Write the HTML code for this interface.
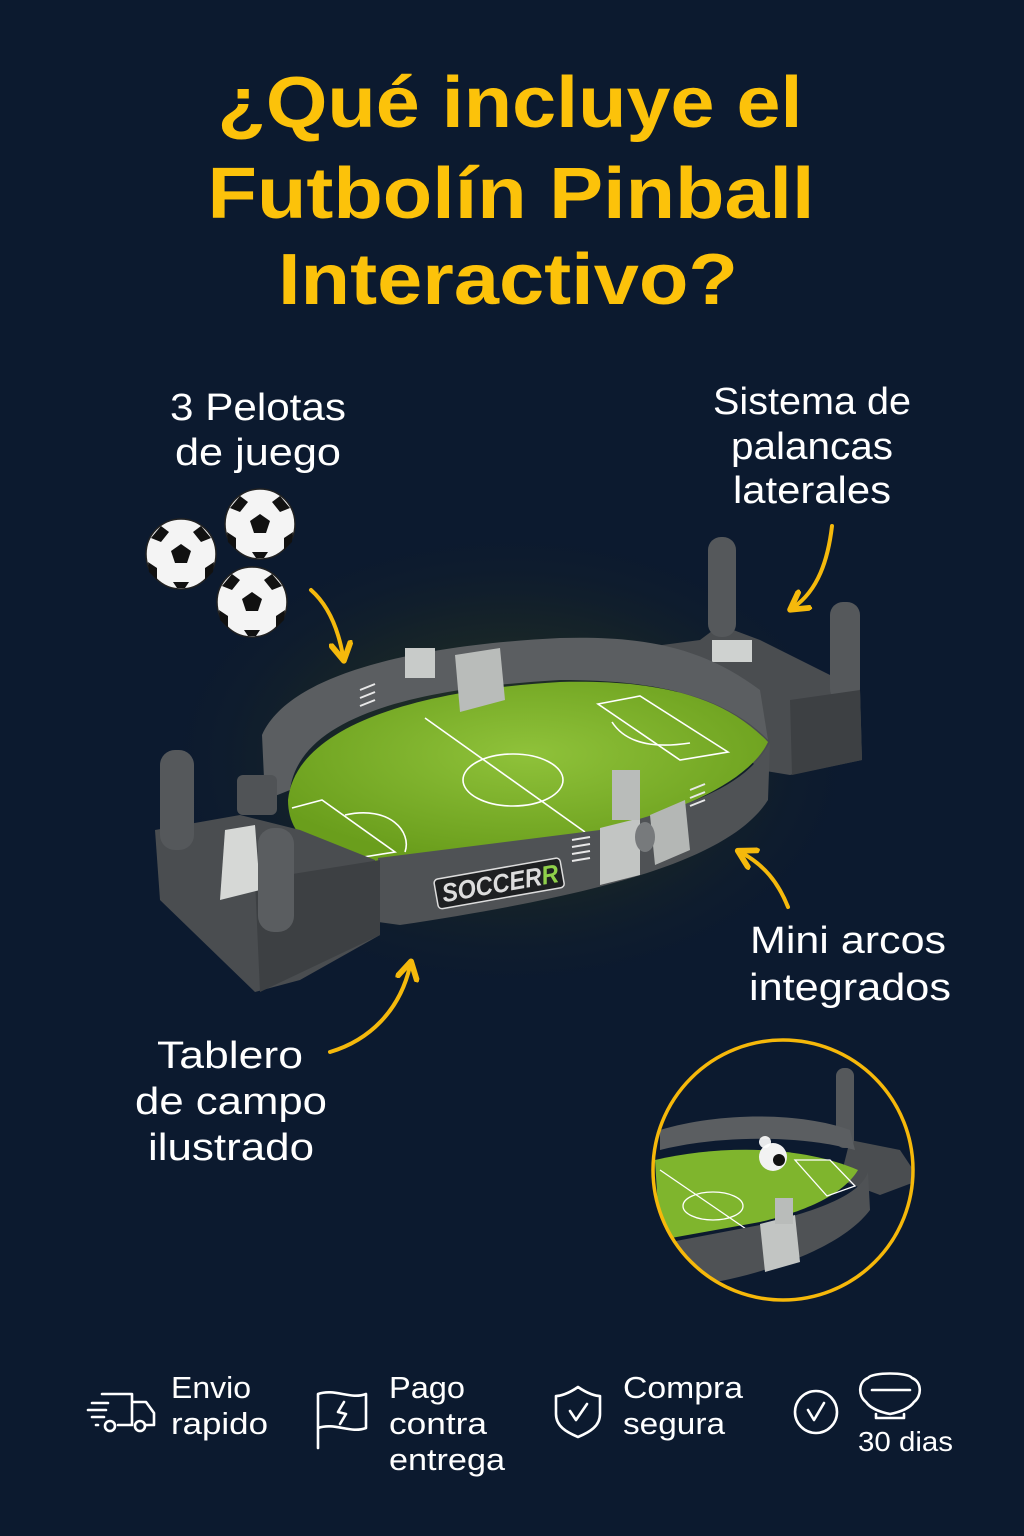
<!DOCTYPE html>
<html><head><meta charset="utf-8"><style>
html,body{margin:0;padding:0;background:#0c1a2f;}
svg{display:block;}
text{font-family:"Liberation Sans",sans-serif;}
</style></head><body>
<svg width="1024" height="1536" viewBox="0 0 1024 1536" xmlns="http://www.w3.org/2000/svg">
<defs>
<radialGradient id="glow" cx="0.5" cy="0.5" r="0.5">
<stop offset="0" stop-color="#4a5a1a" stop-opacity="0.55"/>
<stop offset="0.6" stop-color="#24301e" stop-opacity="0.35"/>
<stop offset="1" stop-color="#0c1a2f" stop-opacity="0"/>
</radialGradient>
<radialGradient id="field" cx="0.5" cy="0.4" r="0.6">
<stop offset="0" stop-color="#8fc23a"/><stop offset="1" stop-color="#6a9e1c"/>
</radialGradient>
<marker id="ah" viewBox="0 0 10 10" refX="6" refY="5" markerWidth="6" markerHeight="6" orient="auto-start-reverse">
<path d="M1,1 L8,5 L1,9" fill="none" stroke="#f5b90c" stroke-width="2.4" stroke-linecap="round" stroke-linejoin="round"/>
</marker>
</defs>
<rect width="1024" height="1536" fill="#0c1a2f"/>

<g fill="#fcc20a" font-weight="bold" font-size="72" text-anchor="middle">
<text x="510" y="127" textLength="585" lengthAdjust="spacingAndGlyphs">¿Qué incluye el</text>
<text x="511" y="218" textLength="607" lengthAdjust="spacingAndGlyphs">Futbolín Pinball</text>
<text x="508" y="304" textLength="460" lengthAdjust="spacingAndGlyphs">Interactivo?</text>
</g>

<g fill="#ffffff" font-size="38" text-anchor="middle">
<text x="258" y="420" textLength="176" lengthAdjust="spacingAndGlyphs">3 Pelotas</text>
<text x="258" y="465" textLength="166" lengthAdjust="spacingAndGlyphs">de juego</text>
<text x="812" y="414" textLength="198" lengthAdjust="spacingAndGlyphs">Sistema de</text>
<text x="812" y="459" textLength="162" lengthAdjust="spacingAndGlyphs">palancas</text>
<text x="812" y="503" textLength="158" lengthAdjust="spacingAndGlyphs">laterales</text>
<text x="848" y="953" textLength="196" lengthAdjust="spacingAndGlyphs">Mini arcos</text>
<text x="850" y="1000" textLength="202" lengthAdjust="spacingAndGlyphs">integrados</text>
<text x="230" y="1068" textLength="146" lengthAdjust="spacingAndGlyphs">Tablero</text>
<text x="231" y="1114" textLength="192" lengthAdjust="spacingAndGlyphs">de campo</text>
<text x="231" y="1160" textLength="166" lengthAdjust="spacingAndGlyphs">ilustrado</text>
</g>

<ellipse cx="510" cy="760" rx="360" ry="240" fill="url(#glow)"/>

<g>
<g transform="translate(181,554)"><circle r="35" fill="#f4f4f4" stroke="#222" stroke-width="1.5"/><polygon points="0,-10 10,-3 6,9 -6,9 -10,-3" fill="#111"/><path d="M-20,-28 L-12,-22 -20,-12 -30,-16 Z M20,-28 L30,-16 20,-12 12,-22Z M-33,8 L-24,14 -24,26 -32,18Z M33,8 L32,18 24,26 24,14Z M-8,28 L8,28 4,34 -4,34Z" fill="#111"/></g>
<g transform="translate(260,524)"><circle r="35" fill="#f4f4f4" stroke="#222" stroke-width="1.5"/><polygon points="0,-10 10,-3 6,9 -6,9 -10,-3" fill="#111"/><path d="M-20,-28 L-12,-22 -20,-12 -30,-16 Z M20,-28 L30,-16 20,-12 12,-22Z M-33,8 L-24,14 -24,26 -32,18Z M33,8 L32,18 24,26 24,14Z M-8,28 L8,28 4,34 -4,34Z" fill="#111"/></g>
<g transform="translate(252,602)"><circle r="35" fill="#f4f4f4" stroke="#222" stroke-width="1.5"/><polygon points="0,-10 10,-3 6,9 -6,9 -10,-3" fill="#111"/><path d="M-20,-28 L-12,-22 -20,-12 -30,-16 Z M20,-28 L30,-16 20,-12 12,-22Z M-33,8 L-24,14 -24,26 -32,18Z M33,8 L32,18 24,26 24,14Z M-8,28 L8,28 4,34 -4,34Z" fill="#111"/></g>
</g>

<g>
<path d="M625,650 L700,640 L720,625 L760,640 L860,690 L862,760 L790,775 L760,770 L700,710 Z" fill="#4a4d50"/>
<rect x="708" y="537" width="28" height="100" rx="13" fill="#55585b"/>
<rect x="830" y="602" width="30" height="100" rx="13" fill="#55585b"/>
<path d="M790,700 L860,690 L862,760 L792,775 Z" fill="#3d4043"/>
<rect x="712" y="640" width="40" height="22" fill="#cfd2d0"/>
<path d="M265,800 L262,735 C290,672 420,645 560,638 C640,636 700,645 760,690 L768,740 C720,690 640,680 560,680 C420,688 300,715 290,790 Z" fill="#5b5e61"/>
<path d="M288,800 C296,725 420,690 560,682 C650,680 720,692 768,742 C745,790 650,820 600,832 L380,862 C330,862 288,845 288,800 Z" fill="url(#field)"/>
<g fill="none" stroke="#fff" stroke-width="1.6">
<line x1="425" y1="718" x2="585" y2="832"/>
<ellipse cx="513" cy="780" rx="50" ry="26"/>
<path d="M598,704 L640,696 L728,752 L680,760 Z"/>
<path d="M612,722 C630,750 670,746 690,743"/>
<path d="M292,808 L322,800 L395,852 L345,860"/>
<path d="M345,815 C390,805 412,832 405,852"/>
</g>
<path d="M378,858 L600,830 C680,808 745,790 770,742 L768,800 C730,860 600,895 400,925 L378,922 Z" fill="#4f5255"/>
<path d="M600,828 L640,818 L640,875 L600,885 Z" fill="#c2c5c3"/>
<path d="M650,815 L685,800 L690,850 L655,865 Z" fill="#b4b7b5"/>
<ellipse cx="645" cy="837" rx="10" ry="15" fill="#777a7c"/>
<rect x="612" y="770" width="28" height="50" fill="#b9bcba"/>
<path d="M455,655 L500,648 L505,700 L460,712 Z" fill="#b9bcba"/>
<rect x="405" y="648" width="30" height="30" fill="#c8cbc9"/>
<g stroke="#e8e8e8" stroke-width="2">
<line x1="572" y1="840" x2="590" y2="837"/><line x1="572" y1="847" x2="590" y2="844"/><line x1="572" y1="854" x2="590" y2="851"/><line x1="572" y1="861" x2="590" y2="858"/>
<line x1="690" y1="790" x2="705" y2="784"/><line x1="690" y1="798" x2="705" y2="792"/><line x1="690" y1="806" x2="705" y2="800"/>
<line x1="360" y1="690" x2="375" y2="684"/><line x1="360" y1="698" x2="375" y2="692"/><line x1="360" y1="706" x2="375" y2="700"/>
</g>
<g transform="translate(440,905) rotate(-10)">
<rect x="-2" y="-26" width="128" height="30" rx="4" fill="#1e2022" stroke="#ddd" stroke-width="1.5"/>
<text x="4" y="-2" font-size="26" font-weight="bold" font-style="italic" fill="#ddd" textLength="118" lengthAdjust="spacingAndGlyphs">SOCCER<tspan fill="#8fd04a">R</tspan></text>
</g>
<path d="M155,830 L240,815 L300,830 L375,860 L380,935 L300,980 L255,992 L160,900 Z" fill="#4a4d50"/>
<path d="M255,880 L380,860 L380,935 L260,992 Z" fill="#3d4043"/>
<path d="M225,830 L255,825 L260,890 L220,900 Z" fill="#d6d8d6"/>
<rect x="160" y="750" width="34" height="100" rx="15" fill="#55585b"/>
<rect x="258" y="828" width="36" height="104" rx="16" fill="#5a5d60"/>
<rect x="237" y="775" width="40" height="40" rx="6" fill="#505356"/>
</g>

<g fill="none" stroke="#f5b90c" stroke-width="4" stroke-linecap="round">
<path d="M311,590 C328,605 338,628 343,656" marker-end="url(#ah)"/>
<path d="M832,526 C828,560 818,590 794,607" marker-end="url(#ah)"/>
<path d="M788,907 C778,882 764,865 742,853" marker-end="url(#ah)"/>
<path d="M330,1052 C370,1040 400,1010 410,966" marker-end="url(#ah)"/>
</g>

<defs><clipPath id="cc"><circle cx="783" cy="1170" r="130"/></clipPath></defs>
<g clip-path="url(#cc)">
<rect x="650" y="1038" width="270" height="264" fill="#0c1a2f"/>
<path d="M850,1140 L900,1150 L920,1180 L880,1195 L840,1180 Z" fill="#4a4d50"/>
<rect x="836" y="1068" width="18" height="80" rx="8" fill="#55585b"/>
<path d="M660,1130 C720,1112 800,1112 850,1130 L855,1150 C800,1135 720,1135 660,1150 Z" fill="#5b5e61"/>
<path d="M655,1160 C720,1145 800,1145 858,1170 C840,1200 790,1215 760,1222 L660,1240 Z" fill="#7fb52d"/>
<g fill="none" stroke="#fff" stroke-width="1.3">
<ellipse cx="713" cy="1206" rx="30" ry="14"/>
<line x1="660" y1="1170" x2="752" y2="1233"/>
<path d="M795,1160 L830,1160 L855,1186 L827,1196 Z"/>
</g>
<path d="M655,1245 L760,1225 C820,1210 860,1195 868,1172 L870,1210 C840,1250 760,1275 700,1285 L655,1280 Z" fill="#4f5255"/>
<path d="M760,1224 L795,1215 L800,1262 L765,1272 Z" fill="#c2c5c3"/>
<rect x="775" y="1198" width="18" height="26" fill="#b9bcba"/>
<circle cx="773" cy="1157" r="14" fill="#f2f2f2"/><circle cx="779" cy="1160" r="6" fill="#111"/>
<circle cx="765" cy="1142" r="6" fill="#fff" opacity="0.9"/>
</g>
<circle cx="783" cy="1170" r="130" fill="none" stroke="#f6b80a" stroke-width="3.5"/>

<g fill="none" stroke="#fff" stroke-width="2.6" stroke-linecap="round" stroke-linejoin="round">
<path d="M102,1394 L132,1394 L132,1425 M132,1402 L146,1402 L154,1413 L154,1425 L146,1425 M132,1425 L118,1425 M98,1425 L96,1425"/>
<circle cx="110" cy="1426" r="5"/><circle cx="140" cy="1426" r="5"/>
<line x1="92" y1="1403" x2="108" y2="1403"/><line x1="88" y1="1410" x2="106" y2="1410"/><line x1="92" y1="1417" x2="104" y2="1417"/>
<path d="M318,1448 L318,1394 C335,1388 350,1400 366,1394 L366,1428 C350,1434 335,1422 318,1428"/>
<path d="M344,1402 L338,1412 L346,1414 L340,1424"/>
<path d="M578,1387 C588,1394 596,1396 600,1396 L600,1414 C600,1426 590,1432 578,1437 C566,1432 556,1426 556,1414 L556,1396 C560,1396 568,1394 578,1387 Z"/>
<path d="M570,1411 L576,1420 L587,1404"/>
<circle cx="816" cy="1412" r="21"/>
<path d="M808,1410 L814,1420 L824,1403"/>
<path d="M868,1378 C872,1372 908,1372 912,1378 C922,1382 922,1396 914,1402 C910,1408 900,1412 890,1414 C880,1412 870,1408 866,1402 C858,1396 858,1382 868,1378 Z"/>
<line x1="872" y1="1390" x2="910" y2="1390"/>
<path d="M876,1414 L876,1418 L904,1418 L904,1414"/>
</g>
<g fill="#fff" font-size="31">
<text x="171" y="1398" textLength="80" lengthAdjust="spacingAndGlyphs">Envio</text>
<text x="171" y="1434" textLength="97" lengthAdjust="spacingAndGlyphs">rapido</text>
<text x="389" y="1398" textLength="76" lengthAdjust="spacingAndGlyphs">Pago</text>
<text x="389" y="1434" textLength="98" lengthAdjust="spacingAndGlyphs">contra</text>
<text x="389" y="1470" textLength="116" lengthAdjust="spacingAndGlyphs">entrega</text>
<text x="623" y="1398" textLength="120" lengthAdjust="spacingAndGlyphs">Compra</text>
<text x="623" y="1434" textLength="102" lengthAdjust="spacingAndGlyphs">segura</text>
<text x="858" y="1451" font-size="28" textLength="95" lengthAdjust="spacingAndGlyphs">30 dias</text>
</g>
</svg>
</body></html>
